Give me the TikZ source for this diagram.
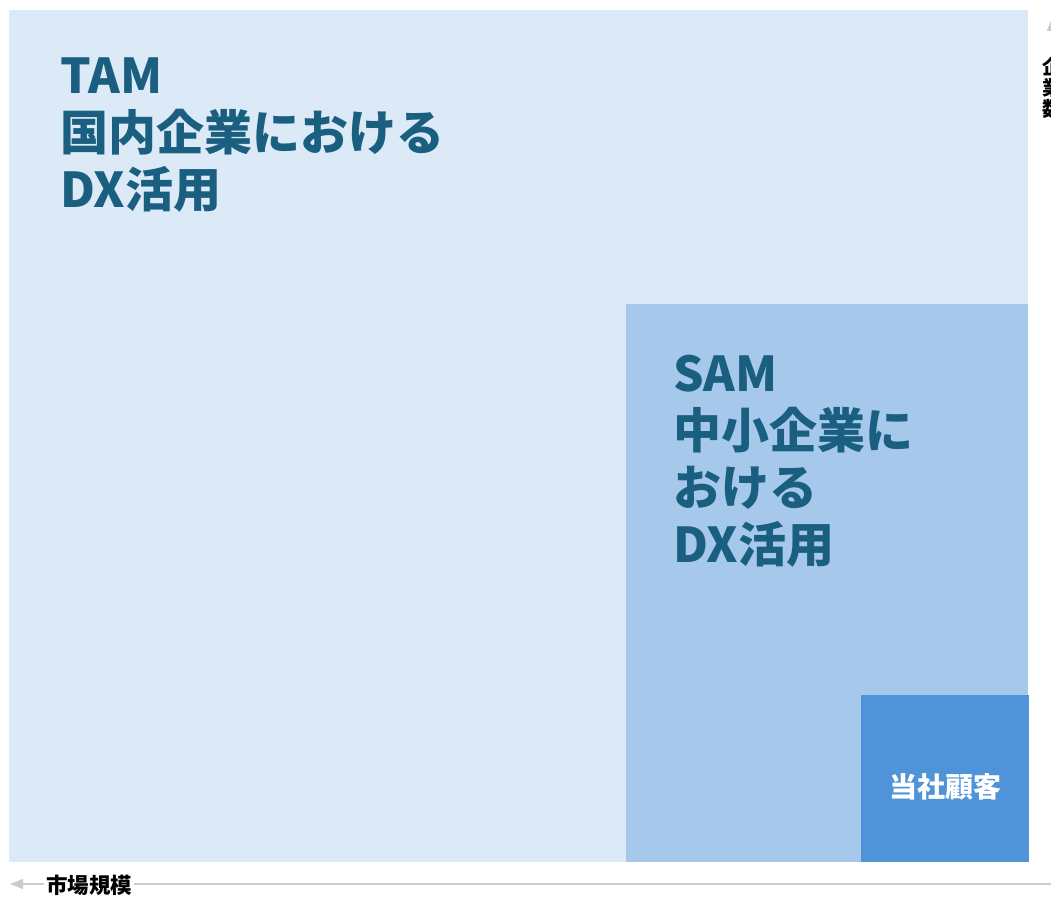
\documentclass[tikz,border=0pt]{standalone}
\usepackage{fontspec}
\setmainfont{Noto Sans CJK JP}
\usetikzlibrary{arrows.meta}
\definecolor{tambg}{HTML}{DCE9F6}
\definecolor{sambg}{HTML}{A6C9EB}
\definecolor{custbg}{HTML}{4F94D9}
\definecolor{labelblue}{HTML}{1A5F80}
\definecolor{axisgrey}{HTML}{CCCCCC}
\tikzset{
  area/.style={draw=none, inner sep=0pt, outer sep=0pt, anchor=north west},
  bigtitle/.style={inner sep=0pt, anchor=north west, align=left, text=labelblue,
    font=\fontsize{48}{57}\selectfont\bfseries},
  axisline/.style={draw=axisgrey, line width=1.5pt, -{Triangle[length=13pt,width=10pt]}},
  axislabel/.style={fill=white, inner sep=2pt, font=\fontsize{21.5}{22}\selectfont\bfseries, text=black},
}
\begin{document}
\begin{tikzpicture}[x=1pt,y=-1pt]
\useasboundingbox (0,0) rectangle (1051,896);
% axes
\coordinate (hstart) at (1060,884);
\coordinate (hend) at (10,884);
\coordinate (vstart) at (1052,900);
\coordinate (vend) at (1052,18);
\draw[axisline] (hstart) -- (hend);
\draw[axisline] (vstart) -- (vend);
\node[axislabel, anchor=west] (hlab) at (44,885) {市場規模};
\node[axislabel, align=center, font=\fontsize{20}{21}\selectfont\bfseries] (vlab) at (1052,88) {企\\業\\数};
% areas
\node[area, fill=tambg, minimum width=1019pt, minimum height=852pt] (tam) at (9,10) {};
\node[area, fill=sambg, minimum width=402pt, minimum height=558pt] (sam) at (626,304) {};
\node[area, fill=custbg, minimum width=168pt, minimum height=167pt] (cust) at (861,695) {};
% labels
\node[bigtitle] (tamlab) at (60,58) {TAM\\国内企業における\\DX活用};
\node[bigtitle] (samlab) at (673,355) {SAM\\中小企業に\\おける\\DX活用};
\node[text=white, font=\fontsize{28}{30}\selectfont\bfseries, inner sep=0pt] (custlab) at ([yshift=-8pt]cust.center) {当社顧客};
\end{tikzpicture}
\end{document}
